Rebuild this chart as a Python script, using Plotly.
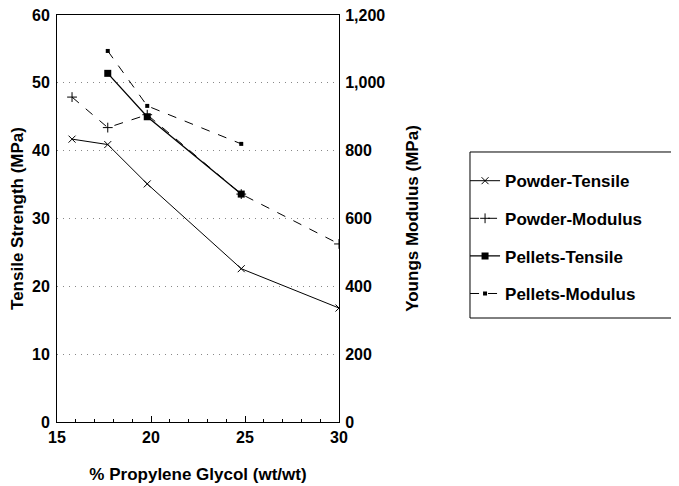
import plotly.graph_objects as go

# % propylene glycol (wt/wt)
powder_x = [15.8, 17.7, 19.8, 24.8, 30.0]
pellet_x = [17.7, 19.8, 24.8]

# tensile strength (MPa), left axis
powder_tensile = [41.7, 40.9, 35.1, 22.6, 16.8]
pellet_tensile = [51.4, 45.0, 33.6]

# youngs modulus (MPa), right axis
powder_modulus = [958, 868, 906, 672, 525]
pellet_modulus = [1094, 932, 820]

fam = "Liberation Sans, Arial, sans-serif"
tickf = dict(family=fam, size=16, color="black", weight="bold")
titlef = dict(family=fam, size=17, color="black", weight="bold")

fig = go.Figure()
fig.add_trace(go.Scatter(x=powder_x, y=powder_tensile, name="Powder-Tensile",
                         mode="lines+markers", legendgroup="a",
                         line=dict(color="black", width=1),
                         marker=dict(symbol="x-thin", size=7, line=dict(color="black", width=1))))
fig.add_trace(go.Scatter(x=powder_x, y=powder_modulus, name="Powder-Modulus",
                         mode="lines+markers", yaxis="y2", legendgroup="b",
                         line=dict(color="black", width=1, dash="dash"),
                         marker=dict(symbol="cross-thin", size=7, line=dict(color="black", width=1))))
fig.add_trace(go.Scatter(x=pellet_x, y=pellet_tensile, name="Pellets-Tensile",
                         mode="lines+markers", legendgroup="c",
                         line=dict(color="black", width=1.3),
                         marker=dict(symbol="square", size=7, color="black")))
fig.add_trace(go.Scatter(x=pellet_x, y=pellet_modulus, name="Pellets-Modulus",
                         mode="lines+markers", yaxis="y2", legendgroup="d",
                         line=dict(color="black", width=1, dash="dash"),
                         marker=dict(symbol="square", size=4, color="black")))

# legend frame drawn as a box running off the right edge
fig.add_shape(type="rect", xref="paper", yref="paper",
              x0=1.4645, x1=2.3, y0=0.2555, y1=0.6634,
              line=dict(color="black", width=1), fillcolor="rgba(0,0,0,0)", layer="below")

# page body adds an 8px offset, so the figure is drawn 8px smaller
fig.update_layout(
    width=671, height=478,
    margin=dict(l=49, r=340, t=7, b=64),
    paper_bgcolor="white", plot_bgcolor="white",
    font=dict(family=fam, size=16, color="black"),
    showlegend=True,
    legend=dict(x=1.447, y=0.636, xanchor="left", yanchor="top",
                borderwidth=0, bgcolor="rgba(0,0,0,0)",
                font=dict(family=fam, size=17, color="black", weight="bold"),
                tracegroupgap=12.5, itemwidth=30),
    xaxis=dict(range=[15, 30], tickvals=[15, 20, 25, 30], automargin=False,
               ticks="inside", ticklen=6, tickcolor="black",
               minor=dict(dtick=1, ticks="inside", ticklen=3, tickcolor="black"),
               showline=True, linecolor="black", linewidth=1, mirror=True,
               showgrid=False, zeroline=False, ticklabeloverflow="allow",
               tickfont=tickf, ticklabelstandoff=1,
               title=dict(text="% Propylene Glycol (wt/wt)", font=titlef, standoff=22)),
    yaxis=dict(range=[0, 60], dtick=10, ticks="", showline=True, linecolor="black",
               linewidth=1, showgrid=True, gridcolor="#888888", griddash="1px,5px", gridwidth=1,
               zeroline=False, tickfont=tickf, ticklabelstandoff=3, automargin=False,
               ticklabeloverflow="allow",
               title=dict(text="Tensile Strength (MPa)", font=titlef, standoff=4)),
    yaxis2=dict(range=[0, 1200], dtick=200, tickformat=",", overlaying="y", side="right",
                ticks="", showline=True, linecolor="black", linewidth=1, automargin=False,
                showgrid=False, zeroline=False, tickfont=tickf, ticklabelstandoff=2,
                ticklabeloverflow="allow",
                title=dict(text="Youngs Modulus (MPa)", font=titlef, standoff=21)),
)

fig.write_html("out.html")
